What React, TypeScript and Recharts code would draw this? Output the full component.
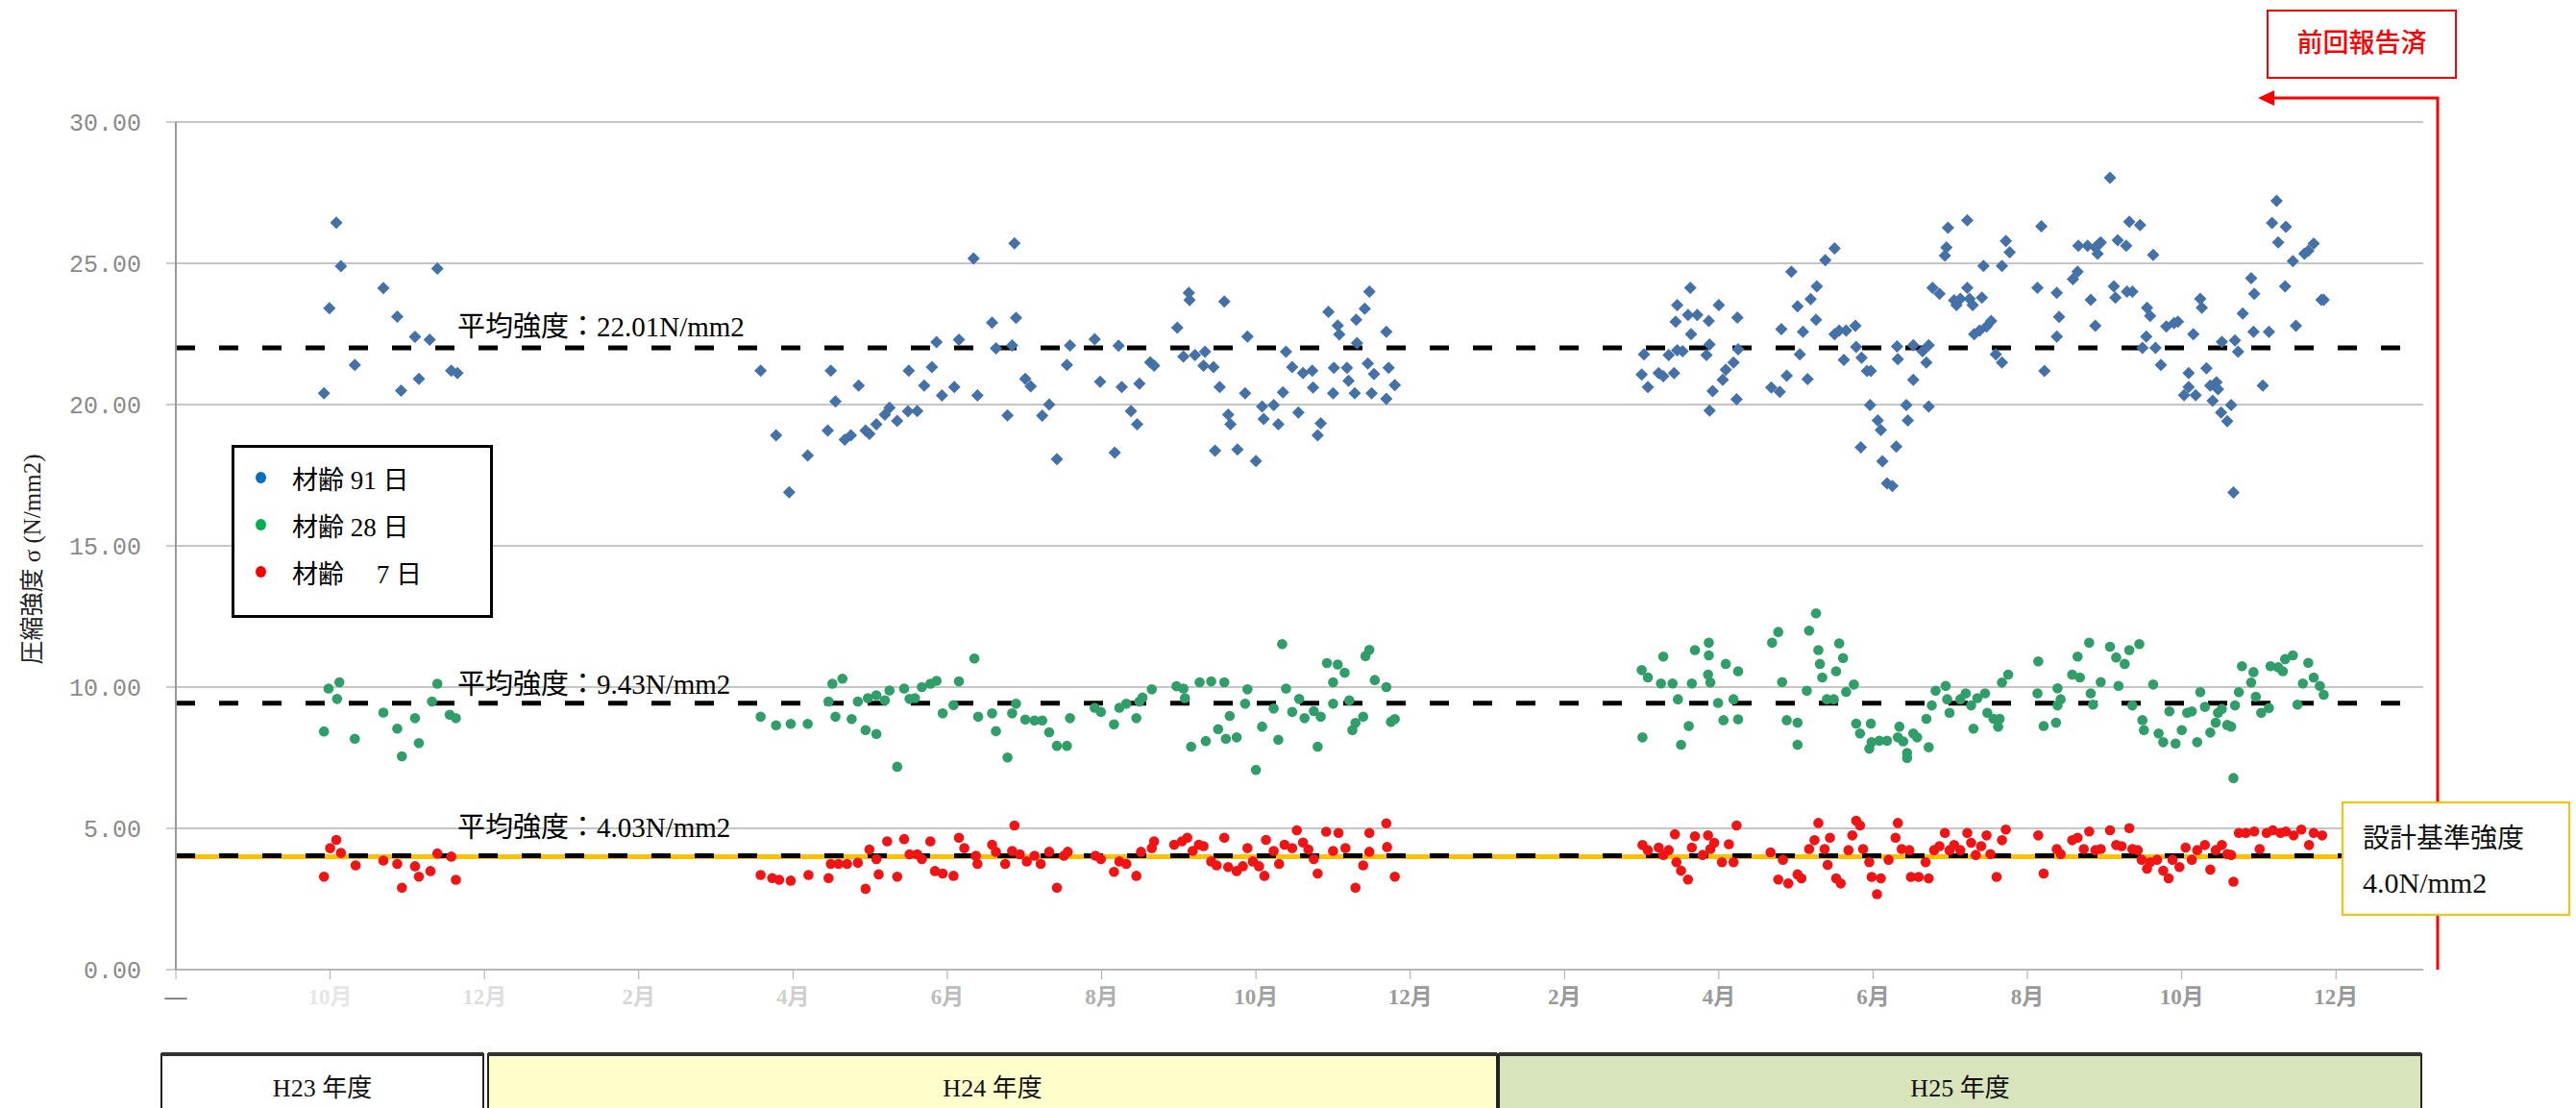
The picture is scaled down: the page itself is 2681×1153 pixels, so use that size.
import React from 'react';
import {
  ScatterChart,
  Scatter,
  XAxis,
  YAxis,
  CartesianGrid,
  ReferenceLine,
  Legend,
} from 'recharts';

// x = months counted from Aug 2011, y = strength (N/mm2)
const age91: number[][] = [
  [2.08, 26.44], [2.14, 24.9], [1.99, 23.41], [2.69, 24.12], [2.87, 23.11], [3.39, 24.81], [3.1, 22.4],
  [3.29, 22.3], [2.32, 21.4], [1.92, 20.4], [2.92, 20.49], [3.15, 20.91], [3.57, 21.2], [3.65, 21.11],
  [7.58, 21.2], [7.78, 18.91], [7.95, 16.9], [8.19, 18.2], [8.49, 21.2], [8.45, 19.08], [8.55, 20.11],
  [8.67, 18.76], [8.75, 18.91], [8.85, 20.67], [8.94, 19.08], [8.99, 18.96], [9.08, 19.3], [9.19, 19.64],
  [9.25, 19.89], [9.35, 19.42], [9.49, 19.76], [9.61, 19.77], [9.5, 21.2], [9.7, 20.67], [9.8, 21.33],
  [9.86, 22.21], [9.93, 20.32], [10.09, 20.62], [10.15, 22.3], [10.34, 25.17], [10.39, 20.32], [10.58, 22.9],
  [10.63, 21.99], [10.84, 22.09], [10.87, 25.71], [10.89, 23.07], [10.78, 19.62], [11.01, 20.91], [11.08, 20.65],
  [11.23, 19.61], [11.32, 20.0], [11.42, 18.07], [11.55, 21.4], [11.59, 22.09], [11.91, 22.31], [11.98, 20.81],
  [12.22, 22.08], [12.26, 20.62], [12.17, 18.3], [12.38, 19.77], [12.46, 19.3], [12.49, 20.74], [12.63, 21.5],
  [12.68, 21.38], [12.98, 22.72], [13.13, 23.95], [13.14, 23.7], [13.06, 21.7], [13.21, 21.75], [13.34, 21.87],
  [13.32, 21.38], [13.45, 21.33], [13.53, 20.62], [13.59, 23.65], [13.64, 19.64], [13.67, 19.3], [13.47, 18.37],
  [13.76, 18.41], [13.86, 20.4], [13.89, 22.41], [14.0, 18.0], [14.08, 19.93], [14.1, 19.49], [14.23, 19.98],
  [14.29, 19.3], [14.35, 20.43], [14.39, 21.87], [14.47, 21.33], [14.55, 19.72], [14.61, 21.11], [14.73, 21.2],
  [14.74, 20.6], [14.84, 19.34], [14.8, 18.91], [14.94, 23.28], [15.06, 22.8], [15.08, 22.48], [15.01, 21.3],
  [15.0, 20.4], [15.18, 21.3], [15.2, 20.84], [15.3, 23.0], [15.31, 22.18], [15.28, 20.4], [15.41, 23.39],
  [15.47, 24.0], [15.45, 21.45], [15.53, 21.08], [15.5, 20.4], [15.69, 22.58], [15.72, 21.3], [15.8, 20.69],
  [15.69, 20.2],
  [19.03, 21.78], [19.08, 20.62], [19.0, 21.06], [19.22, 21.11], [19.28, 21.0], [19.42, 21.11], [19.35, 21.75],
  [19.46, 21.92], [19.53, 21.89], [19.44, 22.93], [19.46, 23.52], [19.63, 24.13], [19.6, 23.17], [19.64, 22.49],
  [19.72, 23.17], [19.87, 22.96], [20.0, 23.52], [19.84, 21.75], [19.88, 22.13], [19.88, 19.79], [19.92, 20.48],
  [20.05, 20.88], [20.09, 21.23], [20.19, 21.49], [20.24, 23.08], [20.23, 20.19], [20.25, 21.96], [20.68, 20.6],
  [20.79, 20.45], [20.81, 22.67], [20.88, 21.02], [20.94, 24.7], [21.02, 23.48], [21.05, 21.78], [21.09, 22.58],
  [21.15, 20.9], [21.19, 23.73], [21.26, 23.0], [21.27, 24.18], [21.38, 25.11], [21.5, 25.53], [21.5, 22.49],
  [21.56, 22.62], [21.65, 22.62], [21.77, 22.79], [21.62, 21.58], [21.78, 22.04], [21.85, 21.66], [21.92, 21.19],
  [21.97, 21.19], [21.96, 19.98], [22.06, 19.44], [22.1, 19.1], [21.84, 18.49], [22.12, 17.99], [22.18, 17.21],
  [22.25, 17.12], [22.3, 18.51], [22.43, 19.98], [22.45, 19.44], [22.32, 21.61], [22.52, 20.88], [22.31, 22.06],
  [22.52, 22.1], [22.64, 21.89], [22.69, 21.49], [22.72, 19.93], [22.72, 22.1], [22.77, 24.13], [22.86, 23.92],
  [22.97, 26.26], [22.95, 25.56], [22.93, 25.27], [23.05, 23.69], [23.08, 23.52], [23.13, 23.74], [23.22, 26.52],
  [23.22, 24.13], [23.25, 23.74], [23.29, 23.52], [23.41, 23.78], [23.31, 22.49], [23.38, 22.62], [23.47, 22.76],
  [23.53, 22.96], [23.59, 21.78], [23.67, 21.49], [23.43, 24.91], [23.67, 24.91], [23.72, 25.79], [23.77, 25.39],
  [24.18, 26.31], [24.13, 24.13], [24.22, 21.19], [24.38, 23.95], [24.41, 23.1], [24.38, 22.41], [24.59, 24.44],
  [24.65, 24.7], [24.66, 25.62], [24.78, 25.62], [24.88, 25.56], [24.93, 25.69], [24.91, 25.34], [24.95, 25.74],
  [24.82, 23.71], [24.88, 22.79], [25.07, 28.03], [25.12, 24.18], [25.14, 23.78], [25.17, 25.82], [25.28, 25.62],
  [25.29, 24.0], [25.36, 24.0], [25.32, 26.47], [25.46, 26.35], [25.63, 25.3], [25.55, 23.43], [25.59, 23.14],
  [25.54, 22.41], [25.49, 22.01], [25.66, 22.01], [25.73, 21.4], [25.8, 22.76], [25.9, 22.88], [25.95, 22.93],
  [26.09, 21.11], [26.15, 22.49], [26.24, 23.74], [26.26, 23.43], [26.09, 20.62], [26.03, 20.33], [26.18, 20.33],
  [26.32, 21.28], [26.37, 20.67], [26.45, 20.79], [26.4, 20.14], [26.47, 20.54], [26.51, 19.72], [26.59, 19.41],
  [26.64, 19.98], [26.52, 22.22], [26.69, 22.27], [26.73, 21.87], [26.67, 16.89], [26.79, 23.22], [26.9, 24.47],
  [26.94, 23.92], [26.93, 22.58], [27.05, 20.67], [27.13, 22.58], [27.17, 26.43], [27.23, 27.21], [27.25, 25.74],
  [27.35, 26.29], [27.34, 24.18], [27.44, 25.08], [27.48, 22.79], [27.59, 25.34], [27.64, 25.44], [27.71, 25.7],
  [27.81, 23.71], [27.84, 23.71],
];

const age28: number[][] = [
  [2.12, 10.17], [1.98, 9.95], [2.09, 9.58], [1.92, 8.43], [2.32, 8.17], [2.69, 9.1], [2.87, 8.53],
  [3.1, 8.9], [3.15, 8.02], [2.93, 7.55], [3.32, 9.49], [3.39, 10.12], [3.55, 9.02], [3.63, 8.9],
  [7.58, 8.95], [7.78, 8.65], [7.97, 8.7], [8.19, 8.7], [8.46, 9.49], [8.51, 10.12], [8.64, 10.3],
  [8.55, 8.95], [8.76, 8.87], [8.94, 8.48], [9.08, 8.34], [8.84, 9.49], [8.97, 9.61], [9.08, 9.71],
  [9.19, 9.53], [9.25, 9.88], [9.44, 9.95], [9.51, 9.58], [9.58, 9.61], [9.67, 10.0], [9.78, 10.12],
  [9.86, 10.22], [10.15, 10.2], [9.35, 7.18], [9.94, 9.07], [10.08, 9.36], [10.35, 11.01], [10.4, 8.95],
  [10.58, 9.07], [10.63, 8.44], [10.78, 7.51], [10.84, 9.07], [10.89, 9.41], [11.01, 8.85], [11.13, 8.82],
  [11.23, 8.82], [11.32, 8.4], [11.42, 7.92], [11.55, 7.92], [11.59, 8.9], [11.91, 9.27], [11.99, 9.12],
  [12.16, 8.68], [12.23, 9.27], [12.32, 9.41], [12.45, 8.9], [12.49, 9.49], [12.53, 9.63], [12.65, 9.92],
  [12.97, 10.03], [13.06, 9.95], [13.08, 9.61], [13.16, 7.89], [13.27, 10.17], [13.42, 10.2], [13.59, 10.17],
  [13.35, 8.09], [13.51, 8.51], [13.66, 8.98], [13.61, 8.17], [13.75, 8.22], [13.86, 9.41], [13.89, 9.92],
  [14.0, 7.07], [14.08, 8.6], [14.23, 9.24], [14.29, 8.14], [14.34, 11.52], [14.39, 9.95], [14.47, 9.12],
  [14.56, 9.58], [14.63, 8.9], [14.75, 9.15], [14.8, 7.89], [14.84, 8.95], [14.92, 10.85], [15.06, 10.8],
  [15.0, 10.17], [15.15, 10.51], [15.0, 9.41], [15.21, 9.53], [15.25, 8.48], [15.29, 8.73], [15.39, 8.95],
  [15.42, 11.1], [15.47, 11.32], [15.54, 10.25], [15.69, 10.0], [15.75, 8.77], [15.8, 8.87],
  [19.01, 8.22], [19.0, 10.6], [19.08, 10.34], [19.28, 11.08], [19.25, 10.13], [19.4, 10.13], [19.47, 9.57],
  [19.51, 7.96], [19.61, 8.62], [19.65, 10.13], [19.69, 11.31], [19.87, 11.57], [19.87, 11.12], [19.86, 10.44],
  [19.89, 10.16], [19.99, 9.44], [20.09, 10.82], [20.06, 8.83], [20.19, 9.57], [20.25, 10.56], [20.25, 8.86],
  [20.69, 11.57], [20.77, 11.95], [20.82, 10.18], [20.88, 8.83], [21.02, 8.74], [21.02, 7.96], [21.14, 9.87],
  [21.17, 12.0], [21.26, 12.61], [21.29, 11.31], [21.31, 10.82], [21.34, 10.34], [21.4, 9.57], [21.49, 9.57],
  [21.52, 10.56], [21.56, 11.55], [21.61, 11.03], [21.65, 9.83], [21.75, 10.09], [21.78, 8.71], [21.83, 8.36],
  [21.95, 7.82], [21.97, 8.71], [21.98, 8.05], [22.08, 8.1], [22.18, 8.1], [22.32, 8.22], [22.34, 8.6],
  [22.39, 8.08], [22.44, 7.49], [22.44, 7.67], [22.52, 8.36], [22.57, 8.22], [22.69, 8.88], [22.72, 7.87],
  [22.76, 9.35], [22.81, 9.87], [22.94, 10.04], [22.96, 9.57], [22.99, 9.09], [23.13, 9.57], [23.2, 9.78],
  [23.27, 9.35], [23.3, 8.53], [23.35, 9.61], [23.45, 9.78], [23.48, 9.09], [23.56, 8.88], [23.62, 8.6],
  [23.64, 8.88], [23.67, 10.16], [23.75, 10.44], [24.14, 10.91], [24.13, 9.78], [24.21, 8.62], [24.37, 8.74],
  [24.39, 9.35], [24.39, 9.96], [24.43, 9.57], [24.58, 10.44], [24.65, 11.08], [24.68, 10.34], [24.8, 11.57],
  [24.82, 9.78], [24.85, 9.38], [24.95, 10.18], [25.07, 11.43], [25.15, 11.05], [25.18, 10.04], [25.26, 10.82],
  [25.32, 11.31], [25.45, 11.52], [25.36, 9.35], [25.49, 8.83], [25.51, 8.48], [25.63, 10.09], [25.7, 8.36],
  [25.76, 8.05], [25.84, 9.14], [25.92, 8.0], [26.0, 8.48], [26.07, 9.09], [26.13, 9.14], [26.2, 8.05],
  [26.24, 9.82], [26.3, 9.3], [26.37, 8.39], [26.44, 8.74], [26.47, 9.09], [26.52, 9.23], [26.59, 8.66],
  [26.64, 8.6], [26.67, 6.78], [26.69, 9.35], [26.74, 9.82], [26.78, 10.74], [26.9, 10.16], [26.93, 10.53],
  [26.96, 9.66], [27.03, 9.09], [27.13, 9.26], [27.15, 10.74], [27.25, 10.7], [27.31, 10.56], [27.34, 10.99],
  [27.44, 11.12], [27.5, 9.38], [27.57, 10.13], [27.64, 10.86], [27.71, 10.34], [27.79, 10.04], [27.84, 9.73],
];

const age7: number[][] = [
  [2.08, 4.59], [2.0, 4.3], [2.14, 4.13], [1.92, 3.29], [2.33, 3.69], [2.69, 3.86], [2.87, 3.74],
  [3.1, 3.66], [3.15, 3.29], [3.3, 3.49], [2.93, 2.9], [3.39, 4.11], [3.57, 4.0], [3.63, 3.18],
  [7.58, 3.35], [7.73, 3.24], [7.82, 3.18], [7.97, 3.15], [8.2, 3.35], [8.46, 3.24], [8.49, 3.74],
  [8.59, 3.74], [8.7, 3.74], [8.84, 3.78], [8.94, 2.86], [8.99, 4.25], [9.08, 3.91], [9.11, 3.37],
  [9.22, 4.54], [9.35, 3.29], [9.44, 4.62], [9.51, 4.08], [9.61, 4.08], [9.67, 3.91], [9.78, 4.54],
  [9.84, 3.49], [9.94, 3.4], [10.08, 3.32], [10.15, 4.67], [10.22, 4.3], [10.37, 4.03], [10.39, 3.74],
  [10.58, 4.42], [10.63, 4.17], [10.75, 3.74], [10.84, 4.2], [10.87, 5.1], [10.94, 4.08], [11.03, 3.83],
  [11.13, 4.03], [11.21, 3.74], [11.32, 4.17], [11.42, 2.9], [11.51, 4.03], [11.56, 4.17], [11.92, 4.03],
  [11.99, 3.91], [12.16, 3.46], [12.23, 3.83], [12.32, 3.74], [12.45, 3.32], [12.51, 4.17], [12.65, 4.3],
  [12.68, 4.54], [12.94, 4.42], [13.04, 4.54], [13.11, 4.67], [13.18, 4.2], [13.26, 4.42], [13.32, 4.37],
  [13.42, 3.83], [13.49, 3.69], [13.59, 4.67], [13.64, 3.63], [13.75, 3.49], [13.83, 3.66], [13.89, 4.3],
  [13.96, 3.83], [14.04, 3.66], [14.11, 3.32], [14.13, 4.59], [14.23, 4.2], [14.3, 3.74], [14.37, 4.42],
  [14.47, 4.3], [14.53, 4.93], [14.61, 4.5], [14.68, 4.25], [14.75, 3.91], [14.8, 3.4], [14.91, 4.88],
  [15.0, 4.2], [15.07, 4.84], [15.16, 4.3], [15.29, 2.9], [15.39, 3.69], [15.47, 4.84], [15.47, 4.17],
  [15.69, 5.18], [15.7, 4.34], [15.8, 3.29],
  [19.01, 4.41], [19.08, 4.23], [19.22, 4.32], [19.28, 4.06], [19.35, 4.23], [19.43, 4.79], [19.45, 3.8],
  [19.51, 3.5], [19.6, 3.19], [19.65, 4.32], [19.69, 4.72], [19.79, 4.06], [19.86, 4.75], [19.89, 4.27],
  [19.94, 4.49], [20.04, 3.8], [20.13, 4.44], [20.19, 3.8], [20.23, 5.1], [20.67, 4.15], [20.77, 3.19],
  [20.83, 3.89], [20.9, 3.05], [21.02, 3.37], [21.07, 3.23], [21.17, 4.27], [21.24, 4.58], [21.29, 5.19],
  [21.37, 4.27], [21.41, 3.71], [21.44, 4.67], [21.52, 3.23], [21.58, 3.05], [21.68, 4.23], [21.73, 4.75],
  [21.78, 5.27], [21.83, 5.1], [21.87, 4.27], [21.95, 3.8], [21.98, 3.28], [22.05, 2.67], [22.1, 3.23],
  [22.2, 3.89], [22.29, 4.67], [22.32, 5.19], [22.37, 4.27], [22.47, 4.23], [22.49, 3.28], [22.59, 3.28],
  [22.68, 3.8], [22.72, 3.23], [22.79, 4.23], [22.86, 4.37], [22.93, 4.84], [22.99, 4.23], [23.05, 4.41],
  [23.13, 4.23], [23.22, 4.84], [23.27, 4.49], [23.33, 4.06], [23.4, 4.37], [23.47, 4.75], [23.52, 4.09],
  [23.6, 3.28], [23.67, 4.58], [23.72, 4.96], [24.14, 4.75], [24.21, 3.4], [24.38, 4.27], [24.43, 4.09],
  [24.58, 4.58], [24.65, 4.67], [24.73, 4.27], [24.8, 4.89], [24.88, 4.23], [24.95, 4.27], [25.07, 4.93],
  [25.15, 4.41], [25.22, 4.37], [25.32, 5.01], [25.36, 4.27], [25.43, 4.23], [25.48, 3.89], [25.55, 3.57],
  [25.59, 3.8], [25.68, 3.89], [25.76, 3.5], [25.83, 3.23], [25.88, 3.89], [25.97, 3.63], [26.05, 4.32],
  [26.13, 3.89], [26.2, 4.23], [26.3, 4.41], [26.37, 3.54], [26.44, 4.23], [26.52, 4.41], [26.59, 4.09],
  [26.67, 3.11], [26.64, 4.06], [26.74, 4.84], [26.83, 4.84], [26.94, 4.89], [27.01, 4.27], [27.1, 4.84],
  [27.18, 4.93], [27.28, 4.84], [27.35, 4.89], [27.45, 4.75], [27.55, 4.96], [27.65, 4.41], [27.71, 4.84],
  [27.82, 4.75],
];

const monthTicks = [0, 2, 4, 6, 8, 10, 12, 14, 16, 18, 20, 22, 24, 26, 28];
const monthLabels = ['—', '10月', '12月', '2月', '4月', '6月', '8月', '10月', '12月', '2月', '4月', '6月', '8月', '10月', '12月'];
const strengthTicks = [0, 5, 10, 15, 20, 25, 30];

const avg91 = 22.01;
const avg28 = 9.43;
const avg7 = 4.03;
const designStrength = 4.0;

const fiscalYears = ['H23 年度', 'H24 年度', 'H25 年度'];

const SERIF = "'Liberation Serif', 'Noto Sans CJK JP', serif";
const W = 2681;
const H = 1153;

const toPoints = (rows: number[][]) => rows.map(([m, v]) => ({ m, v }));

const series = [
  { name: '材齢 91 日', data: toPoints(age91), color: '#4571a9', legend: '#0070c0', diamond: true },
  { name: '材齢 28 日', data: toPoints(age28), color: '#2f9e69', legend: '#00b050', diamond: false },
  { name: '材齢\u3000 7 日', data: toPoints(age7), color: '#f21414', legend: '#ff0000', diamond: false },
];

const tickGrey = ['#666', '#e6e6e6', '#dedede', '#d6d6d6', '#cfcfcf', '#bdbdbd', '#b0b0b0', '#a2a2a2', '#9a9a9a'];

const MonthTick = (props: any) => {
  const { x, y, payload } = props;
  const i = Math.round(payload.value / 2);
  return (
    <text x={x} y={y} dy="0.75em" textAnchor="middle" fontFamily={SERIF} fontSize={23} fontWeight="bold"
      fill={tickGrey[i] ?? '#999'}>
      {monthLabels[i]}
    </text>
  );
};

const AvgLabel = (props: any) => {
  const { viewBox, text, dy } = props;
  return (
    <text x={viewBox.x + 293} y={viewBox.y + dy} fontFamily={SERIF} fontSize={29} fill="#000">
      {text}
    </text>
  );
};

const AxisTitle = () => (
  <text transform="translate(36,582) rotate(-90)" textAnchor="middle" dominantBaseline="middle"
    fontFamily={SERIF} fontSize={25} fill="#222">
    圧縮強度 σ (N/mm2)
  </text>
);

const makeShape = (color: string, diamond: boolean) => (p: any) => {
  const { cx, cy } = p;
  if (diamond) {
    const r = 6.5;
    return <path d={`M${cx},${cy - r}L${cx + r},${cy}L${cx},${cy + r}L${cx - r},${cy}Z`} fill={color} />;
  }
  return <circle cx={cx} cy={cy} r={5.3} fill={color} />;
};

const LegendBox = () => (
  <div style={{ width: 272, height: 180, border: '3px solid #000', boxSizing: 'border-box', background: '#fff',
    position: 'relative', fontFamily: SERIF, fontSize: 27, color: '#000' }}>
    {series.map((s, i) => (
      <div key={s.name} style={{ position: 'absolute', left: 0, top: 13 + i * 49, height: 36, display: 'flex', alignItems: 'center' }}>
        <span style={{ display: 'inline-block', width: 11, height: 12, borderRadius: '50%', background: s.legend,
          marginLeft: 22, marginRight: 27 }} />
        <span style={{ whiteSpace: 'pre' }}>{s.name}</span>
      </div>
    ))}
  </div>
);

const boxSpans = [[168, 503, '#ffffff'], [508, 1558, '#ffffcc'], [1560, 2520, '#d8e4bc']] as const;

const Overlay = () => (
  <svg width={W} height={H} style={{ position: 'absolute', left: 0, top: 0, pointerEvents: 'none' }}>
    {/* previous report marker */}
    <rect x={2360} y={11} width={196} height={70} fill="#fff" stroke="#ff0000" strokeWidth={2} />
    <text x={2458} y={47} textAnchor="middle" dominantBaseline="middle" fontFamily="'Noto Sans CJK JP', sans-serif"
      fontSize={27} fontWeight={500} fill="#ff0000">前回報告済</text>
    <polyline points="2537,1009 2537,102 2366,102" fill="none" stroke="#ff0000" strokeWidth={3} />
    <polygon points="2350,102 2367,94 2367,110" fill="#ff0000" />
    {/* design strength note */}
    <rect x={2438} y={835} width={236} height={117} fill="#fff" stroke="#ffc000" strokeWidth={2} />
    <text x={2459} y={882} fontFamily={SERIF} fontSize={28} fill="#111">設計基準強度</text>
    <text x={2459} y={929} fontFamily={SERIF} fontSize={30} fill="#111">4.0N/mm2</text>
    {/* fiscal years */}
    {boxSpans.map(([a, b, fill], i) => (
      <g key={i}>
        <rect x={a} y={1097} width={b - a} height={70} fill={fill} stroke="#222" strokeWidth={2} />
        <line x1={a} x2={b} y1={1097} y2={1097} stroke="#333" strokeWidth={4} />
        <text x={(a + b) / 2} y={1135} textAnchor="middle" dominantBaseline="middle" fontFamily={SERIF}
          fontSize={26} fill="#111">{fiscalYears[i]}</text>
      </g>
    ))}
  </svg>
);

export default function App() {
  return (
    <div style={{ position: 'absolute', left: 0, top: 0, width: W, height: H, background: '#fff' }}>
      <ScatterChart width={W} height={H} margin={{ top: 127, right: 159, bottom: 94, left: 83 }}>
        <CartesianGrid vertical={false} stroke="#c6c6c6" strokeWidth={2} />
        <XAxis type="number" dataKey="m" domain={[0, 29.13]} ticks={monthTicks} interval={0} allowDataOverflow
          height={50} tickSize={10} tickMargin={9} tick={<MonthTick />}
          axisLine={{ stroke: '#b8b8b8', strokeWidth: 2 }} tickLine={{ stroke: '#aaa' }} />
        <YAxis type="number" dataKey="v" domain={[0, 30]} ticks={strengthTicks} interval={0} width={100}
          tickSize={10} tickMargin={26} tickFormatter={(v: number) => v.toFixed(2)}
          tick={{ fill: '#8a8a8a', fontFamily: "'Liberation Mono', monospace", fontSize: 25 }}
          axisLine={{ stroke: '#9a9a9a', strokeWidth: 2 }} tickLine={{ stroke: '#9a9a9a' }}
          label={<AxisTitle />} />
        <ReferenceLine y={designStrength} stroke="#ffc000" strokeWidth={5} />
        <ReferenceLine y={avg91} stroke="#000" strokeWidth={5} strokeDasharray="20 25"
          label={<AvgLabel text={`平均強度：${avg91.toFixed(2)}N/mm2`} dy={-12} />} />
        <ReferenceLine y={avg28} stroke="#000" strokeWidth={5} strokeDasharray="20 25"
          label={<AvgLabel text={`平均強度：${avg28.toFixed(2)}N/mm2`} dy={-10} />} />
        <ReferenceLine y={avg7} stroke="#000" strokeWidth={5} strokeDasharray="20 25"
          label={<AvgLabel text={`平均強度：${avg7.toFixed(2)}N/mm2`} dy={-20} />} />
        {series.map((s) => (
          <Scatter key={s.name} name={s.name} data={s.data} fill={s.color}
            shape={makeShape(s.color, s.diamond)} isAnimationActive={false} />
        ))}
        <Legend layout="vertical" align="center" verticalAlign="middle" content={<LegendBox />}
          wrapperStyle={{ position: 'absolute', left: 241, top: 463, width: 272, height: 180 }} />
      </ScatterChart>
      <Overlay />
    </div>
  );
}
